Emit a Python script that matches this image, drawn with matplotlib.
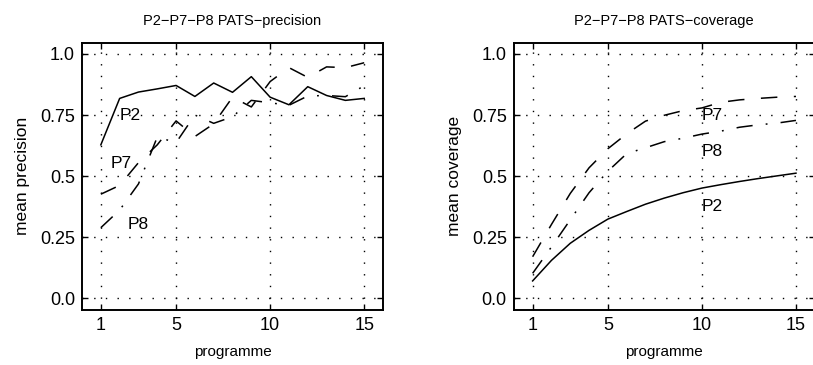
import numpy as np
import matplotlib
matplotlib.use('Agg')
import matplotlib.pyplot as plt

plt.rcParams['font.family'] = ['Liberation Sans', 'DejaVu Sans']

programme = np.arange(1, 16)

# mean precision per programme
prec_p2 = [0.628, 0.818, 0.844, 0.857, 0.871, 0.826, 0.881, 0.843, 0.907, 0.823,
           0.792, 0.866, 0.830, 0.810, 0.818]
prec_p7 = [0.426, 0.462, 0.555, 0.628, 0.726, 0.662, 0.714, 0.823, 0.783, 0.887,
           0.944, 0.904, 0.947, 0.944, 0.964]
prec_p8 = [0.289, 0.361, 0.468, 0.660, 0.637, 0.750, 0.716, 0.743, 0.810, 0.800,
           0.790, 0.828, 0.830, 0.825, 0.870]

# mean coverage per programme
cov_p2 = [0.071, 0.155, 0.225, 0.278, 0.324, 0.355, 0.385, 0.410, 0.432, 0.451,
          0.465, 0.478, 0.490, 0.501, 0.512]
cov_p7 = [0.170, 0.302, 0.429, 0.534, 0.612, 0.673, 0.725, 0.749, 0.768, 0.779,
          0.802, 0.812, 0.818, 0.823, 0.826]
cov_p8 = [0.102, 0.210, 0.321, 0.432, 0.520, 0.592, 0.616, 0.641, 0.655, 0.672,
          0.684, 0.700, 0.710, 0.717, 0.728]

xtick_vals = [1, 5, 10, 15]
ytick_vals = [0.0, 0.25, 0.5, 0.75, 1.0]
ytick_labels = ['0.0', '0.25', '0.5', '0.75', '1.0']

dashed = (0, (10.8, 10.8))
dashdot = (0, (10.6, 8.6, 1.2, 8.6))
griddots = (0, (1, 7.4))

fig = plt.figure(figsize=(8.13, 3.65), dpi=100)
ax1 = fig.add_axes([0.1009, 0.1507, 0.3702, 0.7323])
ax2 = fig.add_axes([0.6320, 0.1507, 0.3702, 0.7323])


def style(ax, title, ylabel):
    ax.set_xlim(0, 16)
    ax.set_ylim(-0.048, 1.046)
    ax.set_xticks(xtick_vals)
    ax.set_xticklabels([str(v) for v in xtick_vals])
    ax.set_yticks(ytick_vals)
    ax.set_yticklabels(ytick_labels)
    ax.tick_params(direction='in', top=True, right=True, length=4, width=1,
                   labelsize=13, pad=5)
    ax.grid(True, color='black', linestyle=griddots, linewidth=1)
    for s in ax.spines.values():
        s.set_linewidth(1.4)
    ax.set_title(title, fontsize=10.5, pad=13)
    ax.set_xlabel('programme', fontsize=11, labelpad=8)
    ax.set_ylabel(ylabel, fontsize=12.5, labelpad=7)


ax1.plot(programme, prec_p2, color='black', lw=1.1, linestyle='-')
ax1.plot(programme, prec_p7, color='black', lw=1.1, linestyle=dashed)
ax1.plot(programme, prec_p8, color='black', lw=1.1, linestyle=dashdot)
ax1.text(2.0, 0.75, 'P2', fontsize=12.5, ha='left', va='center')
ax1.text(1.5, 0.55, 'P7', fontsize=12.5, ha='left', va='center')
ax1.text(2.45, 0.30, 'P8', fontsize=12.5, ha='left', va='center')
style(ax1, 'P2\u2212P7\u2212P8 PATS\u2212precision', 'mean precision')

ax2.plot(programme, cov_p2, color='black', lw=1.1, linestyle='-')
ax2.plot(programme, cov_p7, color='black', lw=1.1, linestyle=dashed)
ax2.plot(programme, cov_p8, color='black', lw=1.1, linestyle=dashdot)
ax2.text(10.0, 0.747, 'P7', fontsize=12.5, ha='left', va='center')
ax2.text(10.0, 0.60, 'P8', fontsize=12.5, ha='left', va='center')
ax2.text(10.0, 0.375, 'P2', fontsize=12.5, ha='left', va='center')
style(ax2, 'P2\u2212P7\u2212P8 PATS\u2212coverage', 'mean coverage')

fig.savefig('out.png', dpi=100)
